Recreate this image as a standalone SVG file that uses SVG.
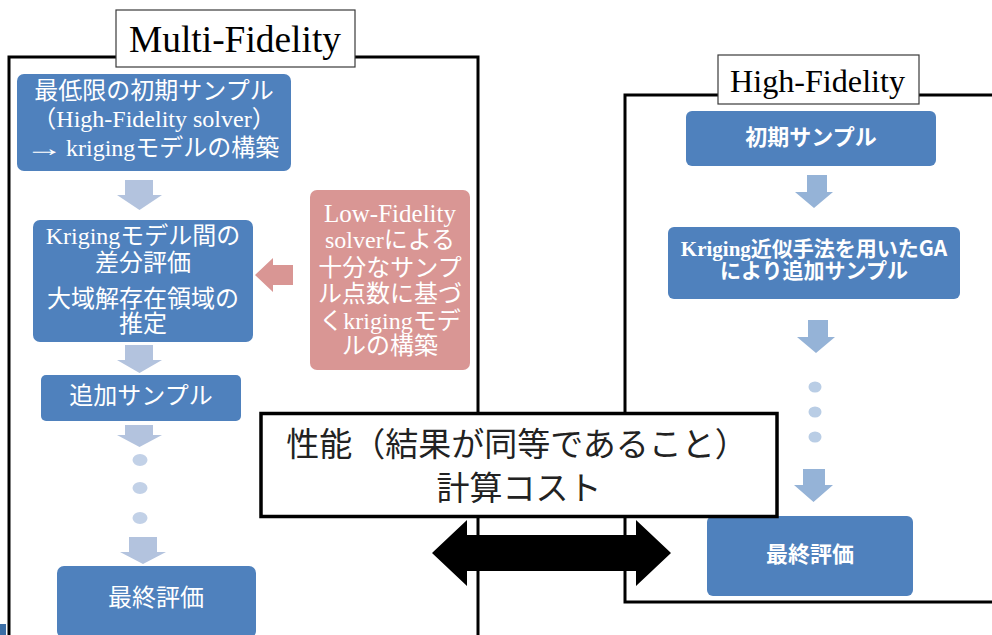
<svg xmlns="http://www.w3.org/2000/svg" width="992" height="635" viewBox="0 0 992 635">
<style>
.frame{fill:none;stroke:#000;stroke-width:3}
.label{fill:#fff;stroke:#3a3a3a;stroke-width:1.2}
.labtxt{font-family:"Liberation Serif","Times New Roman",serif;fill:#000}
.blue{fill:#4F81BD}
.red{fill:#D99694}
.wt{font-family:"Liberation Serif","Noto Sans CJK JP",serif;fill:#fff;text-anchor:middle}
.jp{font-family:"Noto Sans CJK JP",sans-serif}
.bt{font-family:"Liberation Serif","Noto Sans CJK JP",serif;fill:#fff;text-anchor:middle;font-weight:bold}
.larr{fill:#B3C3DE}
.ldot{fill:#C2D1E7}
.rarr{fill:#95B3D7}
.rdot{fill:#B9CDE5}
.ctr{font-family:"Noto Sans CJK JP",sans-serif;fill:#222;text-anchor:middle}
</style>
<rect x="0" y="0" width="992" height="635" fill="#fff"/>
<rect x="0" y="624" width="6" height="11" fill="#3B6EA6"/>

<g id="frames">
<path class="frame" d="M9 640 V57 H478 V640"/>
<path class="frame" d="M1000 95 H625 V602 H1000"/>
</g>

<g id="label-multi">
<rect class="label" x="116" y="10" width="239" height="57"/>
<text class="labtxt" x="129" y="52" font-size="37" textLength="212" lengthAdjust="spacingAndGlyphs">Multi-Fidelity</text>
</g>
<g id="label-high">
<rect class="label" x="718" y="55" width="201" height="49"/>
<text class="labtxt" x="730" y="92" font-size="32" textLength="175" lengthAdjust="spacingAndGlyphs">High-Fidelity</text>
</g>

<g id="connectors">
<polygon class="larr" points="125,180 153,180 153,195 162,195 139.5,210 117,195 125,195"/>
<polygon class="larr" points="125,345 153,345 153,360 162,360 139.5,373 117,360 125,360"/>
<polygon class="larr" points="125,425 153,425 153,435 162,435 139.5,447 117,435 125,435"/>
<ellipse class="ldot" cx="140" cy="460" rx="7.5" ry="6"/>
<ellipse class="ldot" cx="140" cy="488" rx="7.5" ry="6"/>
<ellipse class="ldot" cx="140" cy="518" rx="7.5" ry="6"/>
<polygon class="larr" points="129,537 157,537 157,552 166,552 143,564 120,552 129,552"/>
<polygon class="red" points="255,275 273,258 273,265 293,265 293,285 273,285 273,292"/>
<polygon class="rarr" points="807,175 827,175 827,192 833,192 814,208 795,192 807,192"/>
<polygon class="rarr" points="808,320 828,320 828,337 835,337 816,353 797,337 808,337"/>
<ellipse class="rdot" cx="815" cy="387" rx="6.5" ry="5.5"/>
<ellipse class="rdot" cx="815" cy="412" rx="6.5" ry="5.5"/>
<ellipse class="rdot" cx="815" cy="437" rx="6.5" ry="5.5"/>
<polygon class="rarr" points="803,469 825,469 825,485 833,485 813.5,502 794,485 803,485"/>
<polygon fill="#000" points="432,553 467,520 467,535 636,535 636,520 671,553 636,586 636,571 467,571 467,586"/>
</g>

<g id="node-initial-mf">
<rect class="blue" x="17" y="74" width="274" height="97" rx="7"/>
<text class="wt" x="154" y="99" font-size="24">最低限の初期サンプル</text>
<text class="wt" x="154" y="127" font-size="24">（High-Fidelity solver）</text>
<text class="wt" transform="translate(25,156) scale(1.6,1)" x="0" y="0" font-size="24" style="text-anchor:start">→</text>
<text class="wt" x="66" y="156" font-size="24" style="text-anchor:start">krigingモデルの構築</text>
</g>

<g id="node-kriging-diff">
<rect class="blue" x="33" y="220" width="220" height="122" rx="7"/>
<text class="wt" x="143" y="244" font-size="24">Krigingモデル間の</text>
<text class="wt" x="143" y="271" font-size="24">差分評価</text>
<text class="wt" x="143" y="307" font-size="24">大域解存在領域の</text>
<text class="wt" x="143" y="332" font-size="24">推定</text>
</g>

<g id="node-lowfi">
<rect class="red" x="310" y="190" width="160" height="180" rx="7"/>
<text class="wt" x="390" y="222" font-size="25">Low-Fidelity</text>
<text class="wt" x="390" y="248" font-size="24">solverによる</text>
<text class="wt" x="390" y="276" font-size="24">十分なサンプ</text>
<text class="wt" x="390" y="302" font-size="24">ル点数に基づ</text>
<text class="wt" x="390" y="329" font-size="24">くkrigingモデ</text>
<text class="wt" x="390" y="354" font-size="24">ルの構築</text>
</g>

<g id="node-add-mf">
<rect class="blue" x="41" y="375" width="200" height="46" rx="5"/>
<text class="wt" x="141" y="404" font-size="24">追加サンプル</text>
</g>

<g id="node-final-mf">
<rect class="blue" x="57" y="566" width="199" height="72" rx="7"/>
<text class="wt" x="156" y="606" font-size="24">最終評価</text>
</g>

<g id="node-initial-hf">
<rect class="blue" x="686" y="111" width="250" height="55" rx="6"/>
<text class="bt" x="811" y="145" font-size="22">初期サンプル</text>
</g>

<g id="node-ga-hf">
<rect class="blue" x="668" y="227" width="292" height="72" rx="6"/>
<text class="bt" x="814" y="256" font-size="21">Kriging近似手法を用いた<tspan class="jp">GA</tspan></text>
<text class="bt" x="814" y="278" font-size="21">により追加サンプル</text>
</g>

<g id="node-final-hf">
<rect class="blue" x="707" y="516" width="206" height="80" rx="6"/>
<text class="bt" x="810" y="562" font-size="22">最終評価</text>
</g>

<g id="node-compare">
<rect x="261" y="413.5" width="516" height="103" fill="#fff" stroke="#000" stroke-width="3.5"/>
<text class="ctr" x="517" y="456" font-size="33">性能（結果が同等であること）</text>
<text class="ctr" x="519" y="500" font-size="33">計算コスト</text>
</g>
</svg>
